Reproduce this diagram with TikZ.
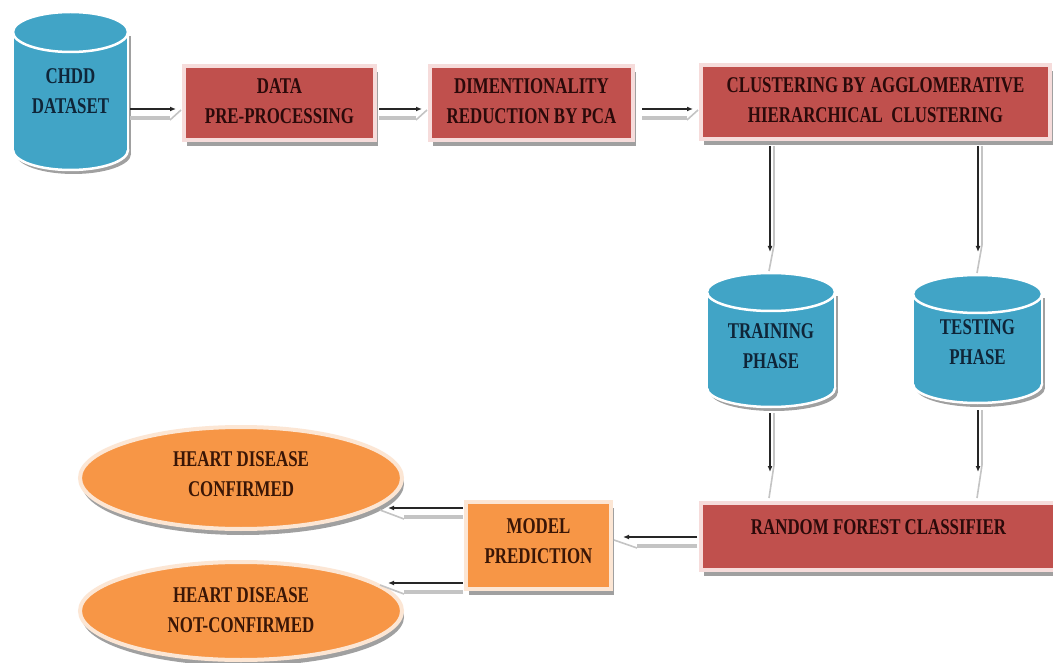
\documentclass[tikz,border=0pt]{standalone}
\usepackage{fontspec}
\setmainfont{Liberation Serif}[FakeStretch=0.75]
\usetikzlibrary{shapes.geometric,arrows.meta,calc,shadows}
\definecolor{boxred}{HTML}{C0504D}
\definecolor{redglow}{HTML}{F6DCDB}
\definecolor{cylblue}{HTML}{41A4C6}
\definecolor{orng}{HTML}{F79646}
\definecolor{orglow}{HTML}{FCE6D4}
\definecolor{shadowgray}{HTML}{A0A0A0}
\definecolor{bandgray}{HTML}{C4C4C4}
\definecolor{redtext}{HTML}{2B0A0A}
\definecolor{orgtext}{HTML}{3A1606}
\definecolor{bluetext}{HTML}{0F2538}
% cx, top, bottom, half width, ry
\newcommand\dbcyl[5]{%
  \fill[shadowgray] (#1-#4+3,#2+#5+4) rectangle (#1+#4+3,#3-#5+4);
  \fill[shadowgray] (#1+3,#3-#5+4) ellipse [x radius=#4, y radius=#5];
  \filldraw[fill=cylblue, draw=white, line width=2.5pt] (#1,#3-#5) ellipse [x radius=#4, y radius=#5];
  \fill[cylblue] (#1-#4,#2+#5) rectangle (#1+#4,#3-#5);
  \draw[white, line width=2.5pt] (#1-#4,#2+#5) -- (#1-#4,#3-#5) (#1+#4,#2+#5) -- (#1+#4,#3-#5);
  \filldraw[fill=cylblue, draw=white, line width=2.5pt] (#1,#2+#5) ellipse [x radius=#4, y radius=#5];
}
\newcommand\lowertext[2]{\raisebox{0pt}[\dimexpr\height+#1\relax][\depth]{#2}}
\newcommand\raisetext[2]{\raisebox{0pt}[\height][\dimexpr\depth+#1\relax]{#2}}
\newcommand\twolines[2]{\begin{tabular}{@{}c@{}}#1\\#2\end{tabular}}
\begin{document}
\begin{tikzpicture}[x=1pt,y=-1pt,
  lbl/.style={font=\fontsize{22.5}{30}\selectfont\bfseries, inner sep=0pt, outer sep=0pt},
  box/.style={lbl, rectangle, fill=boxred, draw=redglow, line width=4pt, text=redtext,
    drop shadow={shadow xshift=3pt, shadow yshift=-6pt, fill=shadowgray, opacity=1}},
  pbox/.style={box, fill=orng, draw=orglow, text=orgtext},
  outell/.style={lbl, ellipse, fill=orng, draw=orglow, line width=4pt, text=orgtext,
    drop shadow={shadow xshift=2pt, shadow yshift=-6pt, fill=shadowgray, opacity=1}},
  cyltext/.style={lbl, rectangle, text=bluetext},
  blk/.style={draw=black!85, line width=1.3pt, -{Latex[length=6pt,width=5pt]}},
  band/.style={draw=bandgray, line width=3.5pt},
  slash/.style={draw=bandgray, line width=1.6pt}
]
\useasboundingbox (0,0) rectangle (1053,663);
\fill[white] (0,0) rectangle (1053,663);

% cylinders
\dbcyl{70.5}{12}{170}{57.5}{20}
\node[cyltext, minimum width=115, minimum height=158] (chdd) at (70.5,91) {\lowertext{4pt}{\twolines{CHDD}{DATASET}}};
\dbcyl{771}{273}{407}{64}{19}
\node[cyltext, minimum width=128, minimum height=134] (train) at (771,340) {\lowertext{14pt}{\twolines{TRAINING}{PHASE}}};
\dbcyl{977.5}{275}{403}{64.5}{19}
\node[cyltext, minimum width=129, minimum height=128] (test) at (977.5,339) {\lowertext{8pt}{\twolines{TESTING}{PHASE}}};

% boxes
\node[box, minimum width=191, minimum height=74] (data) at (279.5,103) {\twolines{DATA}{PRE-PROCESSING}};
\node[box, minimum width=203, minimum height=74] (dim) at (531.5,103) {\twolines{DIMENTIONALITY}{REDUCTION BY PCA}};
\node[box, minimum width=349, minimum height=74] (clust) at (875.5,102) {\twolines{CLUSTERING BY AGGLOMERATIVE}{HIERARCHICAL\ \ CLUSTERING}};
\node[box, minimum width=355, minimum height=67] (rf) at (878.5,536.5) {\raisetext{19pt}{RANDOM FOREST CLASSIFIER}};
\node[pbox, minimum width=145, minimum height=87] (model) at (538.5,545.5) {\raisetext{7pt}{\twolines{MODEL}{PREDICTION}}};
\node[outell, minimum width=322, minimum height=102] (ell1) at (241,478) {\raisetext{6pt}{\twolines{HEART DISEASE}{CONFIRMED}}};
\node[outell, minimum width=322, minimum height=98] (ell2) at (241,611) {\twolines{HEART DISEASE}{NOT-CONFIRMED}};

% CHDD -> DATA
\draw[band, shorten <=2pt, shorten >=14pt] (chdd.east |- 0,118) -- (data.west |- 0,118);
\draw[slash] ($(data.west |- 0,118)+(-14,2)$) -- ($(data.west |- 0,110)+(-3,0)$);
\draw[blk, shorten <=2pt, shorten >=8pt] (chdd.east |- 0,109) -- (data.west |- 0,109);
% DATA -> DIM
\draw[band, shorten <=4pt, shorten >=14pt] (data.east |- 0,118) -- (dim.west |- 0,118);
\draw[slash] ($(dim.west |- 0,118)+(-14,2)$) -- ($(dim.west |- 0,110)+(-3,0)$);
\draw[blk, shorten <=4pt, shorten >=8pt] (data.east |- 0,109) -- (dim.west |- 0,109);
% DIM -> CLUST
\draw[band, shorten <=9pt, shorten >=14pt] (dim.east |- 0,118) -- (clust.west |- 0,118);
\draw[slash] ($(clust.west |- 0,118)+(-14,2)$) -- ($(clust.west |- 0,110)+(-3,0)$);
\draw[blk, shorten <=9pt, shorten >=8pt] (dim.east |- 0,109) -- (clust.west |- 0,109);

% CLUST -> TRAIN / TEST
\draw[band, line width=2.5pt, shorten <=7pt, shorten >=28pt] (clust.south -| 774,0) -- (train.north -| 774,0);
\draw[slash] ($(train.north -| 774,0)+(0,-28)$) -- ($(train.north -| 769,0)+(0,-2)$);
\draw[blk, shorten <=7pt, shorten >=21pt] (clust.south -| 770,0) -- (train.north -| 770,0);
\draw[band, line width=2.5pt, shorten <=7pt, shorten >=30pt] (clust.south -| 982,0) -- (test.north -| 982,0);
\draw[slash] ($(test.north -| 982,0)+(0,-30)$) -- ($(test.north -| 977,0)+(0,-2)$);
\draw[blk, shorten <=7pt, shorten >=23pt] (clust.south -| 978,0) -- (test.north -| 978,0);

% TRAIN / TEST -> RF
\draw[band, line width=2.5pt, shorten <=6pt, shorten >=38pt] (train.south -| 774,0) -- (rf.north -| 774,0);
\draw[slash] ($(rf.north -| 774,0)+(0,-38)$) -- ($(rf.north -| 769,0)+(0,-5)$);
\draw[blk, shorten <=6pt, shorten >=31pt] (train.south -| 770,0) -- (rf.north -| 770,0);
\draw[band, line width=2.5pt, shorten <=7pt, shorten >=38pt] (test.south -| 982,0) -- (rf.north -| 982,0);
\draw[slash] ($(rf.north -| 982,0)+(0,-38)$) -- ($(rf.north -| 977,0)+(0,-5)$);
\draw[blk, shorten <=7pt, shorten >=31pt] (test.south -| 978,0) -- (rf.north -| 978,0);

% RF -> MODEL
\draw[band, shorten <=4pt, shorten >=26pt] (rf.west |- 0,546) -- (model.east |- 0,546);
\draw[slash] ($(model.east |- 0,546)+(26,2)$) -- ($(model.east |- 0,540)+(3,0)$);
\draw[blk, shorten <=4pt, shorten >=12pt] (rf.west |- 0,537) -- (model.east |- 0,537);

% MODEL -> ELLIPSES
\draw[band, shorten <=3pt, shorten >=2pt] (model.west |- 0,517) -- (ell1.east |- 0,517);
\draw[slash] ($(ell1.east |- 0,517)+(2,2)$) -- ($(ell1.east |- 0,510)+(-22,0)$);
\draw[blk, shorten <=3pt, shorten >=-14pt] (model.west |- 0,508) -- (ell1.east |- 0,508);
\draw[band, shorten <=3pt, shorten >=2pt] (model.west |- 0,592) -- (ell2.east |- 0,592);
\draw[slash] ($(ell2.east |- 0,592)+(2,2)$) -- ($(ell2.east |- 0,585)+(-22,0)$);
\draw[blk, shorten <=3pt, shorten >=-14pt] (model.west |- 0,583) -- (ell2.east |- 0,583);
\end{tikzpicture}
\end{document}
